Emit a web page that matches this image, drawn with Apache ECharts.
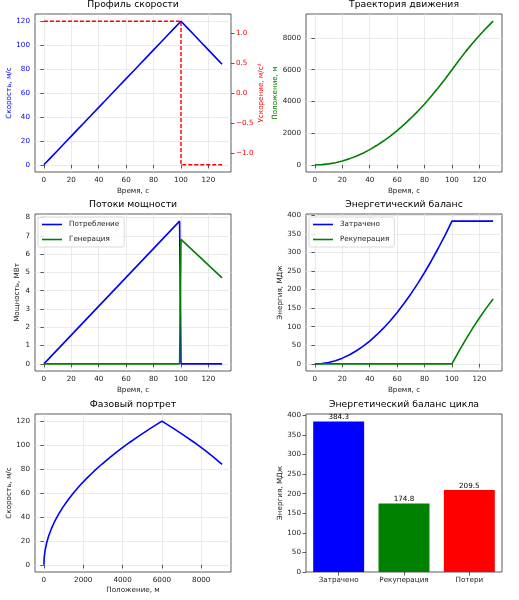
<!DOCTYPE html>
<html>
<head>
<meta charset="utf-8">
<script src="https://cdn.jsdelivr.net/npm/echarts@6/dist/echarts.min.js"></script>
<style>
html,body{margin:0;padding:0;background:#fff;}
#chart{width:519px;height:600px;}
</style>
</head>
<body>
<div id="chart"></div>
<script>
// ---- data ----
const timeS = [0,5,10,15,20,25,30,35,40,45,50,55,60,65,70,75,80,85,90,95,100,105,110,115,120,125,130];
const velocity = [0,6,12,18,24,30,36,42,48,54,60,66,72,78,84,90,96,102,108,114,120,114,108,102,96,90,84];
const accelTime = [0,100,100,130];
const accel = [1.2,1.2,-1.2,-1.2];
const position = [0,15,60,135,240,375,540,735,960,1215,1500,1815,2160,2535,2940,3375,3840,4335,4860,5415,6000,6585,7140,7665,8160,8625,9060];
const consumTime = [0,99,100,130];
const consumPower = [0,7.8,0,0];
const genTime = [0,99,100,130];
const genPower = [0,0,6.8,4.7];
const energySpent = [0,0.96,3.84,8.65,15.4,24.0,34.6,47.1,61.5,77.8,96.1,116.3,138.3,162.4,188.3,216.2,246.0,277.7,311.3,346.8,384.3,384.3,384.3,384.3,384.3,384.3,384.3];
const energyRecup = [0,0,0,0,0,0,0,0,0,0,0,0,0,0,0,0,0,0,0,0,0,33.6,65.4,95.4,123.6,150.1,174.8];
const barCategories = ['Затрачено','Рекуперация','Потери'];
const barValues = [384.3,174.8,209.5];
const barColors = ['#0000ff','#008000','#ff0000'];

const timeTicks = [0,20,40,60,80,100,120];
const velTicks = [0,20,40,60,80,100,120];
const accelTicks = [-1.0,-0.5,0.0,0.5,1.0];
const posTicks = [0,2000,4000,6000,8000];
const powerTicks = [0,1,2,3,4,5,6,7,8];
const energyTicks = [0,50,100,150,200,250,300,350,400];

const pairs = (xs, ys) => xs.map((x, i) => [x, ys[i]]);

// ---- styling ----
const FONT = 'DejaVu Sans';
const TXT = '#222';
const FS = 7.2;
const gridLine = {show: true, lineStyle: {color: '#e4e4e4', width: 0.8}};
const tick = (vals) => ({show: true, length: 3.5, customValues: vals, lineStyle: {color: '#333', width: 0.8}});
const plainFmt = v => String(v);
const lbl = (vals, color, extra) => Object.assign({customValues: vals, color: color || TXT, fontSize: FS, fontFamily: FONT, margin: 5, formatter: plainFmt}, extra || {});

function valAxis(opts) {
  const o = {
    type: 'value', gridIndex: opts.grid, min: opts.min, max: opts.max,
    position: opts.position,
    axisLine: {show: false},
    axisTick: tick(opts.ticks),
    axisLabel: lbl(opts.ticks, opts.color, opts.labelExtra),
    splitLine: opts.noSplit ? {show: false} : gridLine,
    name: opts.name, nameLocation: 'middle', nameGap: opts.nameGap,
    nameTextStyle: {color: opts.nameColor || TXT, fontSize: FS, fontFamily: FONT}
  };
  if (opts.nameRotate !== undefined) o.nameRotate = opts.nameRotate;
  return o;
}

const grids = [
  {left: 35, top: 14, width: 196, height: 158},
  {left: 306, top: 14, width: 196, height: 158},
  {left: 35, top: 214, width: 196, height: 157},
  {left: 306, top: 214, width: 196, height: 157},
  {left: 35, top: 414, width: 196, height: 158},
  {left: 306, top: 414, width: 196, height: 158}
].map(g => Object.assign(g, {show: true, borderColor: '#333', borderWidth: 0.8, backgroundColor: 'transparent'}));

const titleTexts = ['Профиль скорости','Траектория движения','Потоки мощности','Энергетический баланс','Фазовый портрет','Энергетический баланс цикла'];
const titles = titleTexts.map((t, i) => ({
  text: t,
  left: grids[i].left + grids[i].width / 2,
  top: grids[i].top - 13.5,
  textAlign: 'center',
  padding: 0,
  textStyle: {fontSize: 9.3, fontWeight: 'normal', color: '#000', fontFamily: FONT}
}));

const xAxes = [
  valAxis({grid: 0, min: -6.5, max: 136.5, ticks: timeTicks, name: 'Время, с', nameGap: 15.5}),
  valAxis({grid: 1, min: -6.5, max: 136.5, ticks: timeTicks, name: 'Время, с', nameGap: 15.5}),
  valAxis({grid: 2, min: -6.5, max: 136.5, ticks: timeTicks, name: 'Время, с', nameGap: 15.5}),
  valAxis({grid: 3, min: -6.5, max: 136.5, ticks: timeTicks, name: 'Время, с', nameGap: 15.5}),
  valAxis({grid: 4, min: -453, max: 9513, ticks: posTicks, name: 'Положение, м', nameGap: 15}),
  {
    type: 'category', gridIndex: 5, data: barCategories,
    axisLine: {show: false},
    axisTick: {show: true, alignWithLabel: true, length: 3.5, lineStyle: {color: '#333', width: 0.8}},
    axisLabel: {color: TXT, fontSize: FS, fontFamily: FONT, margin: 5, interval: 0, hideOverlap: false},
    splitLine: {show: false}
  }
];

const accFmt = v => (v < 0 ? '\u2212' : '') + Math.abs(v).toFixed(1);

const yAxes = [
  valAxis({grid: 0, min: -6, max: 126, ticks: velTicks, color: '#0000ff', name: 'Скорость, м/с', nameColor: '#0000ff', nameGap: 22}),
  valAxis({grid: 0, min: -1.32, max: 1.32, ticks: accelTicks, position: 'right', color: '#ff0000', name: 'Ускорение, м/с²', nameColor: '#ff0000', nameGap: 23, nameRotate: 90, noSplit: true, labelExtra: {formatter: accFmt}}),
  valAxis({grid: 1, min: -453, max: 9513, ticks: posTicks, name: 'Положение, м', nameColor: '#008000', nameGap: 26}),
  valAxis({grid: 2, min: -0.39, max: 8.19, ticks: powerTicks, name: 'Мощность, МВт', nameGap: 14.5}),
  valAxis({grid: 3, min: -19.2, max: 403.5, ticks: energyTicks, name: 'Энергия, МДж', nameGap: 22}),
  valAxis({grid: 4, min: -6, max: 126, ticks: velTicks, name: 'Скорость, м/с', nameGap: 22}),
  valAxis({grid: 5, min: 0, max: 403.5, ticks: energyTicks, name: 'Энергия, МДж', nameGap: 22, noSplit: true})
];

const lineSeries = (name, x, y, data, color, extra) => Object.assign({
  type: 'line', name: name, xAxisIndex: x, yAxisIndex: y, data: data,
  showSymbol: false, symbol: 'none', animation: false,
  lineStyle: {color: color, width: 1.6}, itemStyle: {color: color}
}, extra || {});

const series = [
  lineSeries('Скорость', 0, 0, pairs(timeS, velocity), '#0000ff'),
  lineSeries('Ускорение', 0, 1, pairs(accelTime, accel), '#ff0000', {lineStyle: {color: '#ff0000', width: 1.4, type: [4, 2]}}),
  lineSeries('Положение', 1, 2, pairs(timeS, position), '#008000'),
  lineSeries('Потребление', 2, 3, pairs(consumTime, consumPower), '#0000ff'),
  lineSeries('Генерация', 2, 3, pairs(genTime, genPower), '#008000'),
  lineSeries('Затрачено', 3, 4, pairs(timeS, energySpent), '#0000ff'),
  lineSeries('Рекуперация', 3, 4, pairs(timeS, energyRecup), '#008000'),
  lineSeries('Фаза', 4, 5, pairs(position, velocity), '#0000ff'),
  {
    type: 'bar', name: 'Баланс', xAxisIndex: 5, yAxisIndex: 6, animation: false,
    barWidth: '78%',
    data: barValues.map((v, i) => ({value: v, itemStyle: {color: barColors[i]}})),
    label: {show: true, position: 'top', distance: 0.5, color: '#000', fontSize: FS, fontFamily: FONT, formatter: p => p.value.toFixed(1)}
  }
];

const legendBase = {
  orient: 'vertical', backgroundColor: 'rgba(255,255,255,0.8)',
  borderColor: '#d0d0d0', borderWidth: 0.8, borderRadius: 2,
  padding: [4, 5, 4, 4], itemGap: 8, itemWidth: 20, itemHeight: 1.6,
  icon: 'rect',
  textStyle: {fontSize: FS, color: TXT, fontFamily: FONT, padding: [0, 0, 0, 2]}
};
const legends = [
  Object.assign({}, legendBase, {left: 38, top: 217, data: ['Потребление', 'Генерация']}),
  Object.assign({}, legendBase, {left: 309, top: 217, data: ['Затрачено', 'Рекуперация']})
];

const chart = echarts.init(document.getElementById('chart'), null, {renderer: 'canvas'});
chart.setOption({
  animation: false,
  backgroundColor: '#fff',
  textStyle: {fontFamily: FONT},
  title: titles,
  grid: grids,
  xAxis: xAxes,
  yAxis: yAxes,
  legend: legends,
  series: series
});
</script>
</body>
</html>
